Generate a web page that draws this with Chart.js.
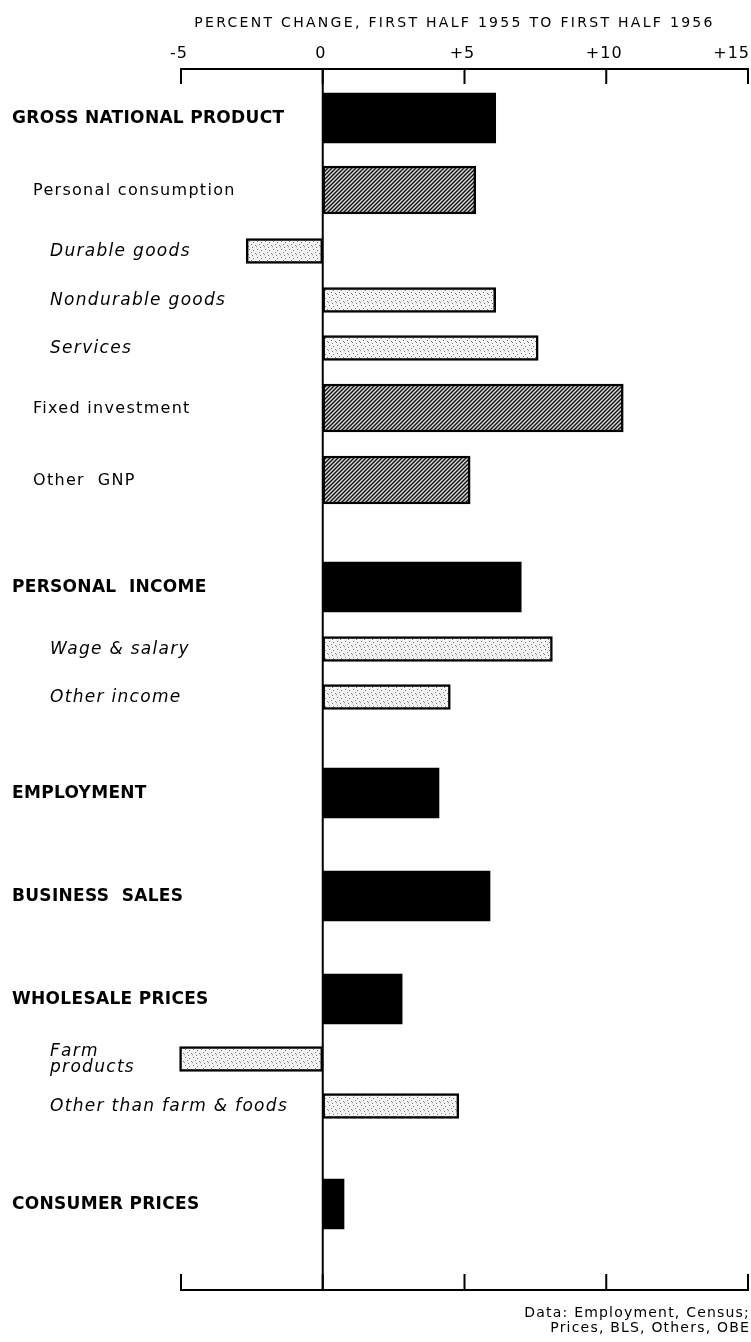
<!DOCTYPE html>
<html><head><meta charset="utf-8">
<script src="https://cdn.jsdelivr.net/npm/chart.js@4.4.1/dist/chart.umd.min.js"></script>
<style>html,body{margin:0;padding:0;background:#fff}#wrap{width:751px;height:1342px;position:relative}canvas{display:block}</style>
</head><body><div id="wrap"><canvas id="c" width="751" height="1342"></canvas></div>
<script>
// ---- data ----
const categories = ["GROSS NATIONAL PRODUCT","Personal consumption","Durable goods","Nondurable goods","Services","Fixed investment","Other  GNP","PERSONAL  INCOME","Wage & salary","Other income","EMPLOYMENT","BUSINESS  SALES","WHOLESALE PRICES","Farm\nproducts","Other than farm & foods","CONSUMER PRICES"];
const levels = ["major","sub","item","item","item","sub","sub","major","item","item","major","major","major","item","item","major"];
const pctChange = [6.1,5.4,-2.7,6.1,7.6,10.6,5.2,7.0,8.1,4.5,4.1,5.9,2.8,-5.05,4.8,0.75];
const xTicks = [-5,0,5,10,15];
const xTickLabels = ["-5","0","+5","+10","+15"];
const axisTitle = "PERCENT CHANGE, FIRST HALF 1955 TO FIRST HALF 1956";
const sourceLines = ["Data: Employment, Census;","Prices, BLS, Others, OBE"];
// ---- layout (not data): vertical row centres along the category axis, 0 = top axis, 1221 = bottom axis
const rowCenter = [49,121,182,231,279,339,411,518,580,628,724,827,930,990,1037,1135];

// ---- styles ----
function hatchPattern(){
  const t=document.createElement('canvas'); t.width=4; t.height=4;
  const g=t.getContext('2d'); g.fillStyle='#d8d8d8'; g.fillRect(0,0,4,4);
  g.strokeStyle='#111'; g.lineWidth=1.4; g.beginPath();
  g.moveTo(-1,5); g.lineTo(5,-1); g.moveTo(-1,1); g.lineTo(1,-1); g.moveTo(3,5); g.lineTo(5,3); g.stroke();
  return g.createPattern(t,'repeat');
}
function stipplePattern(){
  const t=document.createElement('canvas'); t.width=8; t.height=8;
  const g=t.getContext('2d'); g.fillStyle='#f4f4f4'; g.fillRect(0,0,8,8);
  g.fillStyle='#777';
  [[1,1],[5,2],[3,4],[7,5],[0,6],[4,7]].forEach(p=>g.fillRect(p[0],p[1],1,1));
  return g.createPattern(t,'repeat');
}
const styleOf = {
  major:{bg:'#000', border:0, thick:50},
  sub:{bg:hatchPattern(), border:2.5, thick:48},
  item:{bg:stipplePattern(), border:2.5, thick:25}
};
const labelFont = {
  major:{font:"bold 17px 'DejaVu Sans'", x:12, ls:'0.3px'},
  sub:{font:"16px 'DejaVu Sans'", x:33, ls:'1.3px'},
  item:{font:"oblique 17px 'DejaVu Sans'", x:50, ls:'1.3px'}
};

const datasets = ['major','sub','item'].map(lv=>({
  label: lv,
  data: pctChange.map((v,i)=>levels[i]===lv?{x:v,y:rowCenter[i]}:null).filter(d=>d),
  backgroundColor: styleOf[lv].bg,
  borderColor:'#000',
  borderWidth: styleOf[lv].border,
  borderSkipped:false,
  barThickness: styleOf[lv].thick,
  clip:false
}));

function seg(ctx,x1,y1,x2,y2){ctx.beginPath();ctx.moveTo(x1,y1);ctx.lineTo(x2,y2);ctx.stroke();}

const overlay = {
  id:'overlay',
  afterDatasetsDraw(chart){
    const {ctx, chartArea:a, scales:{x,y}} = chart;
    ctx.save();
    ctx.strokeStyle='#000'; ctx.lineWidth=2; ctx.lineCap='butt';
    const xl=x.getPixelForValue(xTicks[0]), xr=x.getPixelForValue(xTicks[xTicks.length-1]);
    seg(ctx,xl-1,a.top,xr+1,a.top);
    seg(ctx,xl-1,a.bottom,xr+1,a.bottom);
    const x0=x.getPixelForValue(0);
    seg(ctx,x0,a.top,x0,a.bottom);
    ctx.fillStyle='#000';
    ctx.font="16px 'DejaVu Sans'"; ctx.textBaseline='middle';
    ctx.letterSpacing='1px';
    xTicks.forEach((v,i)=>{
      const px=x.getPixelForValue(v);
      seg(ctx,px,a.top,px,a.top+15);
      seg(ctx,px,a.bottom,px,a.bottom-16);
      if(i===xTicks.length-1){ctx.textAlign='right';ctx.fillText(xTickLabels[i],px+2,a.top-15);}
      else{ctx.textAlign='center';ctx.fillText(xTickLabels[i],px-2,a.top-15);}
    });
    ctx.font="14px 'DejaVu Sans'"; ctx.letterSpacing='2.3px'; ctx.textAlign='center';
    ctx.fillText(axisTitle,(xl+xr)/2-10,23);
    // category labels
    ctx.textAlign='left';
    categories.forEach((c,i)=>{
      const f=labelFont[levels[i]];
      ctx.font=f.font; ctx.letterSpacing=f.ls;
      const cy=y.getPixelForValue(rowCenter[i]);
      const lines=c.split('\n');
      lines.forEach((ln,k)=>{
        ctx.fillText(ln,f.x,cy+(k-(lines.length-1)/2)*16+1);
      });
    });
    // source
    ctx.font="14px 'DejaVu Sans'"; ctx.letterSpacing='1.2px'; ctx.textAlign='right';
    sourceLines.forEach((s,k)=>ctx.fillText(s,xr+2,a.bottom+23+k*15));
    ctx.restore();
  }
};

new Chart(document.getElementById('c'),{
  type:'bar',
  data:{datasets},
  options:{
    indexAxis:'y',
    responsive:false,
    animation:false,
    devicePixelRatio:1,
    layout:{padding:{left:181,right:3,top:69,bottom:52}},
    datasets:{bar:{grouped:false}},
    plugins:{legend:{display:false},tooltip:{enabled:false},title:{display:false}},
    scales:{
      x:{type:'linear',min:-5,max:15,display:false},
      y:{type:'linear',min:0,max:1221,reverse:true,offset:false,display:false}
    }
  },
  plugins:[overlay]
});
</script></body></html>
